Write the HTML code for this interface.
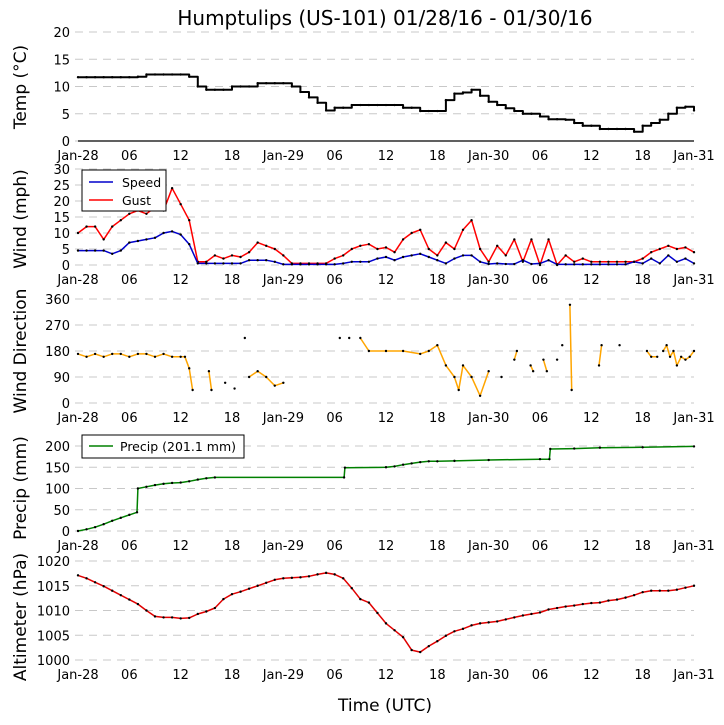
<!DOCTYPE html>
<html><head><meta charset="utf-8"><style>
body{margin:0;background:#fff;}
svg{display:block;font-family:"DejaVu Sans","Liberation Sans",sans-serif;}
</style></head><body>
<svg id="c" width="724" height="725" viewBox="0 0 724 725"></svg>
<script>
const xTickLabels=["Jan-28","06","12","18","Jan-29","06","12","18","Jan-30","06","12","18","Jan-31"];
const tempVals=[11.7,11.7,11.7,11.7,11.7,11.7,11.7,11.8,12.2,12.2,12.2,12.2,12.2,11.8,10.0,9.4,9.4,9.4,10.0,10.0,10.0,10.6,10.6,10.6,10.6,10.0,9.0,8.0,7.0,5.6,6.1,6.1,6.6,6.6,6.6,6.6,6.6,6.6,6.1,6.1,5.5,5.5,5.5,7.5,8.7,8.9,9.4,8.3,7.2,6.6,6.0,5.5,5.0,5.0,4.5,4.0,4.0,3.9,3.3,2.8,2.8,2.2,2.2,2.2,2.2,1.7,2.8,3.3,3.9,5.0,6.1,6.3,5.6];
const speedVals=[4.5,4.5,4.5,4.5,3.5,4.5,7,7.5,8,8.5,10,10.5,9.5,6.5,0.5,0.5,0.5,0.5,0.5,0.5,1.5,1.5,1.5,1,0.2,0.2,0.2,0.2,0.2,0.2,0.2,0.5,1,1,1,2,2.5,1.5,2.5,3,3.5,2.5,1.5,0.5,2,3,3,1,0.3,0.5,0.3,0.3,1.5,0.3,0.5,1.5,0.2,0.2,0.2,0.2,0.2,0.2,0.2,0.2,0.2,1,0.5,2,0.5,3,1,2,0.5];
const gustVals=[10,12,12,8,12,14,16,17,16,18,17,24,19,14,1,1,3,2,3,2.5,4,7,6,5,3,0.5,0.5,0.5,0.5,0.5,2,3,5,6,6.5,5,5.5,4,8,10,11,5,3,7,5,11,14,5,1,6,3,8,1,8,0,8,0,3,1,2,1,1,1,1,1,1,2,4,5,6,5,5.5,4];
const dirTimes=[0,1,2,3,4,5,6,7,8,9,10,11,12,12.5,13,13.4,null,15.3,15.6,null,17.2,null,18.3,null,19.5,null,20,21,22,23,24,null,30.6,null,31.7,null,33,34,36,38,40,41,42,43,44,44.5,45,46,47,48,null,49.5,null,51,51.3,null,52.9,53.2,null,54.4,54.8,null,56,null,56.6,null,57.5,57.7,null,60.9,61.2,null,63.3,null,66.5,67,67.7,null,68.4,68.8,69.2,69.6,70,70.5,71,71.5,72];
const dirVals=[170,160,170,160,170,170,160,170,170,160,170,160,160,160,120,45,null,110,45,null,70,null,50,null,225,null,90,110,90,60,70,null,225,null,225,null,225,180,180,180,170,180,200,130,90,45,130,90,25,110,null,90,null,150,180,null,130,110,null,150,110,null,150,null,200,null,340,45,null,130,200,null,200,null,180,160,160,null,180,200,160,180,130,160,150,160,180];
const precipTimes=[0,1,2,3,4,5,6,6.9,7,8,9,10,11,12,13,14,15,16,31.1,31.2,36,37,38,39,40,41,42,44,48,54,55.1,55.2,58,61,66,72];
const precipVals=[0,4,9,16,24,31,38,44,100,104,108,111,113,114,117,121,124,126,126,149,150,152,156,159,162,164,164,165,167,169,169,193,194,196,197,199];
const altVals=[1017.1,1016.5,1015.7,1014.9,1014.0,1013.1,1012.2,1011.3,1010.0,1008.8,1008.6,1008.6,1008.4,1008.5,1009.3,1009.8,1010.5,1012.3,1013.3,1013.8,1014.4,1015.0,1015.6,1016.2,1016.5,1016.6,1016.7,1016.9,1017.3,1017.6,1017.3,1016.5,1014.5,1012.3,1011.6,1009.5,1007.4,1006.0,1004.6,1002.0,1001.6,1002.8,1003.8,1004.9,1005.8,1006.3,1007.0,1007.4,1007.6,1007.8,1008.2,1008.6,1009.0,1009.3,1009.6,1010.2,1010.5,1010.8,1011.0,1011.3,1011.5,1011.6,1012.0,1012.2,1012.6,1013.1,1013.7,1014.0,1014.0,1014.0,1014.2,1014.6,1015.0];

const svg=document.getElementById('c');
const NS='http://www.w3.org/2000/svg';
const X0=78,X1=694;
function xs(h){return X0+(X1-X0)*h/72;}
function mk(tag,attrs,parent){const e=document.createElementNS(NS,tag);for(const k in attrs)e.setAttribute(k,attrs[k]);(parent||svg).appendChild(e);return e;}
function txt(s,x,y,size,anchor,parent){const t=mk('text',{x:x,y:y,'font-size':size,'text-anchor':anchor||'middle',fill:'#000'},parent);t.textContent=s;return t;}

function panel(name,yb,yt,vmin,vmax,ticks,title,titleY,solidBottom){
  const g=mk('g',{});
  
  
  const ys=v=>yb-(yb-yt)*(v-vmin)/(vmax-vmin);
  ticks.forEach(v=>{
    const y=ys(v);
    const l=mk('line',{x1:75,x2:X1,y1:y,y2:y,stroke:'#c8c8c8','stroke-width':1,'stroke-dasharray':'8,6'},g);
    
    
    const t=txt(String(v),70,y+5,13,'end',g);
    
    
  });
  if(solidBottom){const b=mk('line',{x1:X0,x2:X1,y1:yb,y2:yb,stroke:'#000','stroke-width':1.2},g);
    
    }
  xTickLabels.forEach((s,i)=>{const t=txt(s,xs(i*6),yb+19,13,'middle',g);
    
    });
  const tt=mk('text',{x:0,y:0,'font-size':17,'text-anchor':'middle',transform:`translate(26,${titleY}) rotate(-90)`},g);
  tt.textContent=title;
  
  
  return {g,ys};
}
function series(p,times,vals,color,width,name,step){
  let d='',pen=false,py=0;
  for(let i=0;i<vals.length;i++){
    if(vals[i]===null||times[i]===null){pen=false;continue;}
    const x=xs(times[i]).toFixed(1),y=p.ys(vals[i]).toFixed(1);
    if(pen&&step){d+='L'+x+','+py;}
    d+=(pen?'L':'M')+x+','+y;pen=true;py=y;
  }
  const path=mk('path',{d:d,fill:'none',stroke:color,'stroke-width':width,'stroke-linejoin':'round'},p.g);
  
  
  for(let i=0;i<vals.length;i++){
    if(vals[i]===null||times[i]===null)continue;
    const c=mk('circle',{cx:xs(times[i]),cy:p.ys(vals[i]),r:1.2,fill:'#000'},p.g);
    
    
  }
}
const hours=tempVals.map((_,i)=>i);

const title=txt('Humptulips (US-101) 01/28/16 - 01/30/16',385,25,20,'middle');



const p1=panel('temp',141,32,0,20,[0,5,10,15,20],'Temp (\u00b0C)',87,true);
series(p1,hours,tempVals,'#000',2,'temp',true);

const p2=panel('wind',265,169,0,30,[0,5,10,15,20,25,30],'Wind (mph)',219,false);
series(p2,hours,gustVals,'#ff0000',1.5,'gust');
series(p2,hours,speedVals,'#0000cc',1.5,'speed');
const lg=mk('g',{});


mk('rect',{x:82,y:170,width:84,height:41,fill:'#fff',stroke:'#000','stroke-width':1},lg);
mk('line',{x1:89,x2:113,y1:182,y2:182,stroke:'#0000cc','stroke-width':1.5},lg);
txt('Speed',122,187,12.5,'start',lg);
mk('line',{x1:89,x2:113,y1:200,y2:200,stroke:'#ff0000','stroke-width':1.5},lg);
txt('Gust',122,205,12.5,'start',lg);

const p3=panel('direction',403,299,0,360,[0,90,180,270,360],'Wind Direction',351,false);
series(p3,dirTimes,dirVals,'#ffa500',1.5,'direction');

const p4=panel('precip',531,446,0,200,[0,50,100,150,200],'Precip (mm)',488,false);
series(p4,precipTimes,precipVals,'#008000',1.5,'precip');
const lp=mk('g',{});


mk('rect',{x:82,y:435,width:162,height:23,fill:'#fff',stroke:'#000','stroke-width':1},lp);
mk('line',{x1:89,x2:113,y1:446,y2:446,stroke:'#008000','stroke-width':1.5},lp);
txt('Precip (201.1 mm)',120,451,12.5,'start',lp);

const p5=panel('altimeter',660,561,1000,1020,[1000,1005,1010,1015,1020],'Altimeter (hPa)',617,false);
series(p5,hours,altVals,'#e00000',1.5,'altimeter');

const xt=txt('Time (UTC)',385,711,17,'middle');


</script>
</body></html>
